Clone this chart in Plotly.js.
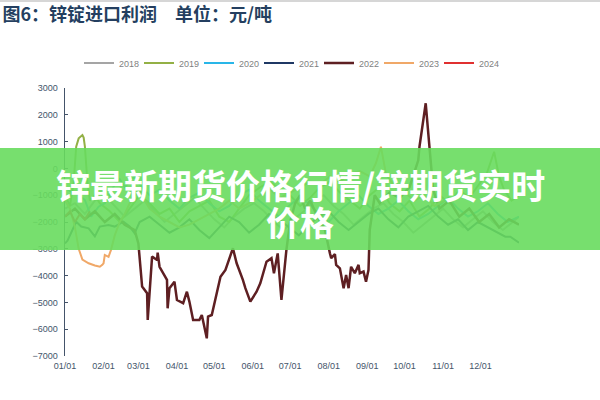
<!DOCTYPE html>
<html><head><meta charset="utf-8">
<script src="https://cdn.plot.ly/plotly-3.0.1.min.js"></script>
<style>html,body{margin:0;padding:0;background:#fff;}#chart{width:600px;height:400px;}</style>
</head><body><div id="chart"></div>
<script>
const monthTicks = [0,31,59,90,120,151,181,212,243,273,304,334];
const monthLabels = ['01/01','02/01','03/01','04/01','05/01','06/01','07/01','08/01','09/01','10/01','11/01','12/01'];

const d2018 = [0,8,16,24,32,40,48,56,64,72,80,88,96,104,112,120,128,136,144,152,160,168,176,184,192,200,208,216,224,232,240,248,256,264,272,280,288,296,304,312,320,328,336,344,352,360,365];
const v2018 = [-1500,-1300,-1700,-1200,-1000,-1400,-1800,-1500,-1200,-1600,-2000,-1700,-1400,-1100,-1500,-1900,-2200,-1800,-1500,-1300,-1600,-2000,-2300,-1900,-1600,-1200,-1000,-1400,-1700,-2100,-1800,-1500,-1300,-1700,-2000,-2400,-2100,-1800,-1500,-1900,-2200,-1900,-1600,-2000,-2300,-2000,-1800];

const d2019 = [0,4,7,9,11,14,15,16,18,20,24,28,36,44,52,60,68,76,84,92,100,108,116,124,132,140,148,157,165,173,181,189,197,205,213,221,229,237,245,253,261,269,277,285,293,301,309,317,325,333,339,345,349,353,359,365];
const v2019 = [-1000,-1400,-500,810,1120,1245,1150,810,-500,-1200,-1000,-1300,-1600,-2000,-1500,-1000,-1300,-1700,-1500,-2000,-1600,-1400,-1200,-1800,-2000,-1500,-1000,-700,-500,-800,-1000,-1400,-1100,-700,-500,-900,-1200,-1500,-1000,-700,-1300,-1600,-1200,-1800,-1500,-1000,-1300,-800,-1100,-600,-200,620,-300,-800,-1200,-1000];

const d2020 = [0,4,11,16,21,27,32,36,40,44,48,52,56,60,68,76,84,92,100,108,116,124,132,140,148,156,164,172,180,188,196,204,212,220,228,236,244,252,260,268,276,284,292,300,308,316,324,332,340,348,356,365];
const v2020 = [-700,-850,-990,-1180,-1800,-1430,-1300,-930,-600,-400,-700,-500,-300,-600,-1000,-800,-1200,-1500,-1100,-900,-1300,-1600,-1400,-1000,-800,-1200,-1500,-1800,-1400,-1100,-1300,-1700,-2000,-1600,-1300,-1000,-1400,-1700,-1500,-1200,-1600,-1900,-1700,-1400,-1100,-1500,-1800,-1600,-1300,-1700,-2000,-1800];

const d2021 = [0,2,9,13,19,24,28,35,40,47,52,56,60,68,76,84,92,100,108,116,124,132,140,148,156,164,172,180,188,196,204,212,220,228,236,244,252,260,268,276,284,292,300,308,316,324,332,340,348,354,358,362,365];
const v2021 = [-2800,-2700,-1990,-2170,-2235,-2540,-2170,-2110,-2170,-1990,-2170,-2420,-2000,-1800,-2100,-2400,-2200,-1900,-2300,-2600,-2200,-1800,-2000,-2400,-2100,-1700,-1900,-2200,-2500,-2100,-1800,-1600,-2000,-2300,-2000,-1700,-1500,-1900,-2200,-1800,-1600,-1400,-1800,-2100,-1900,-2300,-2000,-2200,-2400,-2550,-2550,-2670,-2770];

const d2022 = [0,8,16,24,32,40,48,56,59,62,66,66.5,70,74,74.5,76,82,82.5,84,88,90,95,98,100,103,108,110,114,115,118,125,129,135,138,143,145,149,154,157,162,166,168,171,174,178,181,185,189,193,197,203,209,213,214,217,218,221,224,226,228,230,233,236,237,240,242,244,245,249,253,261,269,277,284,285,290,293,296,301,309,317,325,333,341,349,357,365];
const v2022 = [-1800,-1500,-1900,-1600,-2000,-1700,-2100,-2300,-2800,-4410,-4660,-5655,-3290,-3420,-3140,-3670,-4160,-5220,-4470,-4230,-4910,-5030,-4600,-4970,-5655,-5655,-5470,-6340,-5530,-5470,-4040,-3790,-2980,-3540,-4160,-4470,-4970,-4600,-4290,-3480,-3350,-3910,-3170,-4910,-3040,-2000,-1300,-1000,-1500,-1200,-1800,-2300,-3170,-3350,-3200,-3600,-3730,-4470,-3980,-4470,-3670,-3910,-3600,-3910,-3850,-4230,-3790,-2300,-1000,-1300,-900,-1100,-700,300,810,2430,810,-800,-1500,-1200,-1800,-1500,-2000,-1700,-2200,-1900,-2100];

const d2023 = [0,4,8,11,14,19,24,28,30,31,32,35,37,40,44,48,52,56,60,64,68,76,84,92,100,108,116,124,132,140,148,157,165,173,181,189,197,205,213,221,229,237,245,250,254,258,265,273,281,289,297,305];
const v2023 = [-1200,-1500,-2200,-3000,-3400,-3540,-3620,-3670,-3600,-3540,-3230,-3300,-3040,-2500,-2000,-1700,-1300,-1000,-800,-1200,-1500,-1800,-2000,-2200,-2100,-1900,-1700,-1500,-1200,-1500,-1300,-1000,-800,-1100,-900,-700,-500,-600,-300,-500,-200,-100,-300,200,810,-200,-700,-900,-1200,-1000,-1400,-1200];

const d2024 = [0,4,8,12,16,20];
const v2024 = [-1800,-1600,-2000,-1700,-1900,-1600];

const years = ['2018','2019','2020','2021','2022','2023','2024'];
const colors = ['#a5a5a5','#93b045','#29b6e8','#1f3864','#5e1f22','#f0a868','#e03030'];
const xs = [d2018,d2019,d2020,d2021,d2022,d2023,d2024];
const ys = [v2018,v2019,v2020,v2021,v2022,v2023,v2024];

const traces = years.map((y,i)=>({
  type:'scatter', mode:'lines', name:y, x:xs[i], y:ys[i],
  line:{color:colors[i], width: i===4 ? 2.5 : 2}
}));

const L = 65, R = 519, T = 88, B = 356;
const px = v => (v - L)/(R - L);
const py = v => (B - v)/(B - T);

const layout = {
  width:600, height:400,
  margin:{l:L, r:600-R, t:T, b:400-B},
  paper_bgcolor:'#fff', plot_bgcolor:'#fff',
  font:{family:'Liberation Sans, Arial, sans-serif', color:'#44546a'},
  title:{text:'<b>图6：锌锭进口利润　单位：元/吨</b>', x:0.004, xanchor:'left', xref:'container',
         y:1-15/400, yanchor:'middle', yref:'container',
         font:{family:'Noto Sans CJK SC, sans-serif', size:18, color:'#243f60'}},
  showlegend:true,
  legend:{orientation:'h', x:px(79), xanchor:'left', y:py(63), yanchor:'middle',
          font:{size:9, color:'#7f7f7f'}, entrywidth:15, entrywidthmode:'pixels', bgcolor:'rgba(0,0,0,0)'},
  xaxis:{range:[0,365], tickvals:monthTicks, ticktext:monthLabels, showgrid:false, zeroline:false,
         showline:false, ticks:'', tickfont:{size:9, color:'#44546a'}, ticklabelstandoff:3, fixedrange:true},
  yaxis:{range:[-7000,3000], dtick:1000, tick0:0, showgrid:false, zeroline:false, showline:true,
         linecolor:'#44546a', linewidth:1.5, ticks:'inside', ticklen:3, tickcolor:'#44546a',
         tickfont:{size:9, color:'#44546a'}, ticklabelstandoff:4},
  shapes:[
    {type:'line', xref:'paper', yref:'paper', x0:px(0), x1:px(600), y0:py(1), y1:py(1),
     line:{color:'#c8c8c8', width:1.5}, layer:'above'},
    {type:'rect', xref:'paper', yref:'paper', x0:px(0), x1:px(600), y0:py(250), y1:py(148),
     fillcolor:'rgba(104,220,94,0.9)', line:{width:0}, layer:'above'}
  ],
  annotations:[
    {xref:'paper', yref:'paper', x:px(300), y:py(184), text:'<b>锌最新期货价格行情/锌期货实时</b>',
     showarrow:false, xanchor:'center', yanchor:'middle',
     font:{family:'Noto Sans CJK SC, sans-serif', size:34, color:'#ffffff'}},
    {xref:'paper', yref:'paper', x:px(300), y:py(221), text:'<b>价格</b>',
     showarrow:false, xanchor:'center', yanchor:'middle',
     font:{family:'Noto Sans CJK SC, sans-serif', size:34, color:'#ffffff'}}
  ]
};

Plotly.newPlot('chart', traces, layout, {staticPlot:true, displayModeBar:false});
</script></body></html>
